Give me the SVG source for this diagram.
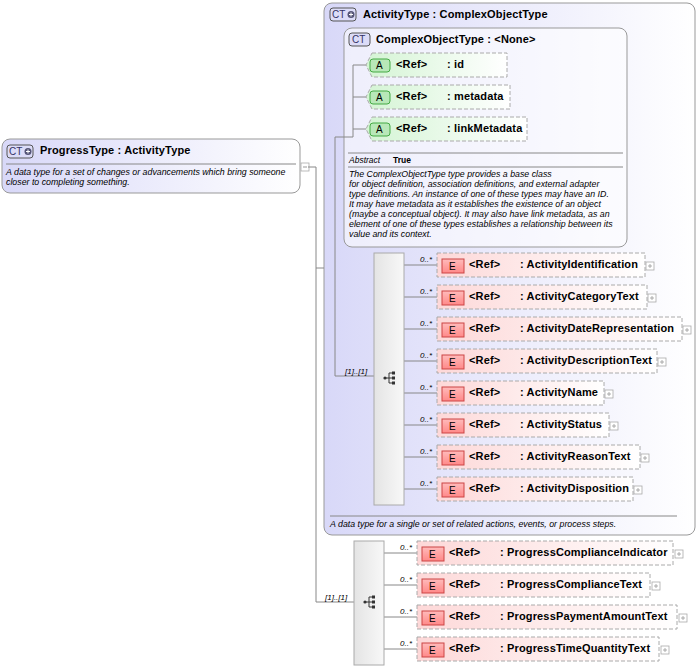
<svg xmlns="http://www.w3.org/2000/svg" width="700" height="669" viewBox="0 0 700 669">
<defs>
<linearGradient id="gCT" x1="0" y1="0" x2="1" y2="0"><stop offset="0" stop-color="#d8d8f8"/><stop offset="1" stop-color="#ffffff"/></linearGradient>
<linearGradient id="gE" x1="0" y1="0" x2="1" y2="0"><stop offset="0" stop-color="#fdd8d8"/><stop offset="1" stop-color="#ffffff"/></linearGradient>
<linearGradient id="gA" x1="0" y1="0" x2="1" y2="0"><stop offset="0" stop-color="#d4f4d4"/><stop offset="1" stop-color="#ffffff"/></linearGradient>
<linearGradient id="gS" x1="0" y1="0" x2="1" y2="0"><stop offset="0" stop-color="#e4e4e4"/><stop offset="1" stop-color="#f8f8f8"/></linearGradient>
<linearGradient id="gEb" x1="0" y1="0" x2="0" y2="1"><stop offset="0" stop-color="#fbb"/><stop offset="1" stop-color="#f88"/></linearGradient>
<g id="plus"><rect x="0" y="0" width="8" height="8" fill="#fff" stroke="#aaa" stroke-width="0.8"/><path d="M2 4h4M4 2v4" stroke="#999" stroke-width="0.8"/></g>
<g id="seqicon"><circle cx="-6" cy="0" r="1.6" fill="#333"/><path d="M-6 0h4M-2 -5v10M-2 -5h3M-2 0h3M-2 5h3" stroke="#333" fill="none" stroke-width="1"/><rect x="1" y="-6.5" width="3" height="3" fill="#333"/><rect x="1" y="-1.5" width="3" height="3" fill="#333"/><rect x="1" y="3.5" width="3" height="3" fill="#333"/></g>
</defs>
<style>
text{font-family:"Liberation Sans",Arial,sans-serif;fill:#000}
.t{font-size:11px;font-weight:bold;letter-spacing:0.15px}
.d{font-size:8.8px;font-style:italic}
.m{font-size:8px;font-style:italic}
.ct{fill:url(#gCT);stroke:#999;stroke-width:1}
.el{fill:url(#gE);stroke:#aaa;stroke-dasharray:4,2;stroke-width:1}
.at{fill:url(#gA);stroke:#aaa;stroke-dasharray:4,2;stroke-width:1}
.seq{fill:url(#gS);stroke:#aaa;stroke-width:1}
.badge{fill:#dcdcf8;stroke:#555;stroke-width:1}
.eb{fill:url(#gEb);stroke:#c44;stroke-width:1}
.ab{fill:#b8e8b8;stroke:#4a4;stroke-width:1}
.ln{stroke:#888;stroke-width:1;fill:none}
.sep{stroke:#888;stroke-width:1}
</style>

<g id="ProgressType">
<rect class="ct" x="2" y="139" width="298" height="54" rx="8"/>
<rect class="badge" x="7" y="145" width="26" height="13" rx="3"/>
<text x="9" y="155" style="font-size:10px;fill:#336">CT</text>
<circle cx="28" cy="151.5" r="3.5" fill="#557"/><path d="M26 151.5h4M28 149.5v4" stroke="#fff"/>
<text class="t" x="40" y="154">ProgressType  : ActivityType</text>
<line class="sep" x1="6" y1="164" x2="296" y2="164"/>
<text class="d" x="6" y="175">A data type for a set of changes or advancements which bring someone</text>
<text class="d" x="6" y="185">closer to completing something.</text>
<rect x="301" y="163" width="8" height="8" fill="#fff" stroke="#aaa" stroke-width="0.8"/><path d="M303 167h4" stroke="#999"/>
</g>

<g id="ActivityType">
<rect class="ct" x="324" y="3" width="371" height="532" rx="8"/>
<rect class="badge" x="330" y="8" width="26" height="13" rx="3"/>
<text x="332" y="18" style="font-size:10px;fill:#336">CT</text>
<circle cx="351" cy="14.5" r="3.5" fill="#557"/><path d="M349 14.5h4M351 12.5v4" stroke="#fff"/>
<text class="t" x="363" y="18">ActivityType : ComplexObjectType</text>
<line class="sep" x1="330" y1="516" x2="677" y2="516"/>
<text class="d" x="330" y="527">A data type for a single or set of related actions, events, or process steps.</text>
</g>

<g id="ComplexObjectType">
<rect x="344" y="28" width="283" height="219" rx="8" fill="#fff" fill-opacity="0.55" stroke="#999"/>
<rect class="badge" x="349" y="33" width="21" height="13" rx="3"/>
<text x="352" y="43" style="font-size:10px;fill:#336">CT</text>
<text class="t" x="376" y="43">ComplexObjectType : &lt;None&gt;</text>
<line class="sep" x1="348" y1="153" x2="623" y2="153"/>
<text x="349" y="163" style="font-size:8.5px;font-style:italic">Abstract</text>
<text x="393" y="163" style="font-size:8.5px;font-weight:bold">True</text>
<line class="sep" x1="348" y1="167" x2="623" y2="167"/>
<text class="d" x="349" y="177">The ComplexObjectType type provides a base class</text>
<text class="d" x="349" y="187">for object definition, association definitions, and external adapter</text>
<text class="d" x="349" y="197">type definitions. An instance of one of these types may have an ID.</text>
<text class="d" x="349" y="207">It may have metadata as it establishes the existence of an object</text>
<text class="d" x="349" y="217">(maybe a conceptual object). It may also have link metadata, as an</text>
<text class="d" x="349" y="227">element of one of these types establishes a relationship between its</text>
<text class="d" x="349" y="237">value and its context.</text>
</g>

<g id="connectors">
<path class="ln" d="M308 167H316V602H354M316 268H324"/>
<path class="ln" d="M353 65V137M353 65H366M353 97H366M353 129H366M353 137H335V376H374"/>
<text class="m" x="345" y="374">[1]..[1]</text>
<path class="ln" d="M404 265H437M404 297H437M404 329H437M404 361H437M404 393H437M404 425H437M404 457H437M404 489H437"/>
<path class="ln" d="M384 553H417M384 585H417M384 617H417M384 649H417"/>
<text class="m" x="325" y="600">[1]..[1]</text>
</g>

<g id="attr_id"><path class="at" d="M372 53H507V77H372L366 65Z"/><rect class="ab" x="370" y="59" width="20" height="13" rx="3"/><text x="376" y="69" style="font-size:10px">A</text><text class="t" x="396" y="68">&lt;Ref&gt;</text><text class="t" x="447" y="68">: id</text></g>
<g id="attr_metadata"><path class="at" d="M372 85H510V109H372L366 97Z"/><rect class="ab" x="370" y="91" width="20" height="13" rx="3"/><text x="376" y="101" style="font-size:10px">A</text><text class="t" x="396" y="100">&lt;Ref&gt;</text><text class="t" x="447" y="100">: metadata</text></g>
<g id="attr_linkMetadata"><path class="at" d="M372 117H527V141H372L366 129Z"/><rect class="ab" x="370" y="123" width="20" height="13" rx="3"/><text x="376" y="133" style="font-size:10px">A</text><text class="t" x="396" y="132">&lt;Ref&gt;</text><text class="t" x="447" y="132">: linkMetadata</text></g>

<g id="seq1"><rect class="seq" x="374" y="253" width="30" height="252"/><use href="#seqicon" x="391" y="378"/></g>

<g id="e1"><text class="m" x="420" y="262">0..*</text><rect class="el" x="437" y="253" width="208" height="24"/><rect class="eb" x="442" y="259" width="22" height="14"/><text x="449" y="270" style="font-size:10px">E</text><text class="t" x="469" y="268">&lt;Ref&gt;</text><text class="t" x="520" y="268">: ActivityIdentification</text><use href="#plus" x="646" y="262"/></g>
<g id="e2"><text class="m" x="420" y="294">0..*</text><rect class="el" x="437" y="285" width="210" height="24"/><rect class="eb" x="442" y="291" width="22" height="14"/><text x="449" y="302" style="font-size:10px">E</text><text class="t" x="469" y="300">&lt;Ref&gt;</text><text class="t" x="520" y="300">: ActivityCategoryText</text><use href="#plus" x="648" y="294"/></g>
<g id="e3"><text class="m" x="420" y="326">0..*</text><rect class="el" x="437" y="317" width="245" height="24"/><rect class="eb" x="442" y="323" width="22" height="14"/><text x="449" y="334" style="font-size:10px">E</text><text class="t" x="469" y="332">&lt;Ref&gt;</text><text class="t" x="520" y="332">: ActivityDateRepresentation</text><use href="#plus" x="683" y="326"/></g>
<g id="e4"><text class="m" x="420" y="358">0..*</text><rect class="el" x="437" y="349" width="220" height="24"/><rect class="eb" x="442" y="355" width="22" height="14"/><text x="449" y="366" style="font-size:10px">E</text><text class="t" x="469" y="364">&lt;Ref&gt;</text><text class="t" x="520" y="364">: ActivityDescriptionText</text><use href="#plus" x="658" y="358"/></g>
<g id="e5"><text class="m" x="420" y="390">0..*</text><rect class="el" x="437" y="381" width="167" height="24"/><rect class="eb" x="442" y="387" width="22" height="14"/><text x="449" y="398" style="font-size:10px">E</text><text class="t" x="469" y="396">&lt;Ref&gt;</text><text class="t" x="520" y="396">: ActivityName</text><use href="#plus" x="605" y="390"/></g>
<g id="e6"><text class="m" x="420" y="422">0..*</text><rect class="el" x="437" y="413" width="172" height="24"/><rect class="eb" x="442" y="419" width="22" height="14"/><text x="449" y="430" style="font-size:10px">E</text><text class="t" x="469" y="428">&lt;Ref&gt;</text><text class="t" x="520" y="428">: ActivityStatus</text><use href="#plus" x="610" y="422"/></g>
<g id="e7"><text class="m" x="420" y="454">0..*</text><rect class="el" x="437" y="445" width="203" height="24"/><rect class="eb" x="442" y="451" width="22" height="14"/><text x="449" y="462" style="font-size:10px">E</text><text class="t" x="469" y="460">&lt;Ref&gt;</text><text class="t" x="520" y="460">: ActivityReasonText</text><use href="#plus" x="641" y="454"/></g>
<g id="e8"><text class="m" x="420" y="486">0..*</text><rect class="el" x="437" y="477" width="196" height="24"/><rect class="eb" x="442" y="483" width="22" height="14"/><text x="449" y="494" style="font-size:10px">E</text><text class="t" x="469" y="492">&lt;Ref&gt;</text><text class="t" x="520" y="492">: ActivityDisposition</text><use href="#plus" x="634" y="486"/></g>

<g id="seq2"><rect class="seq" x="354" y="541" width="30" height="124"/><use href="#seqicon" x="371" y="602"/></g>

<g id="p1"><text class="m" x="400" y="550">0..*</text><rect class="el" x="417" y="541" width="256" height="24"/><rect class="eb" x="422" y="547" width="22" height="14"/><text x="429" y="558" style="font-size:10px">E</text><text class="t" x="449" y="556">&lt;Ref&gt;</text><text class="t" x="500" y="556">: ProgressComplianceIndicator</text><use href="#plus" x="675" y="550"/></g>
<g id="p2"><text class="m" x="400" y="582">0..*</text><rect class="el" x="417" y="573" width="233" height="24"/><rect class="eb" x="422" y="579" width="22" height="14"/><text x="429" y="590" style="font-size:10px">E</text><text class="t" x="449" y="588">&lt;Ref&gt;</text><text class="t" x="500" y="588">: ProgressComplianceText</text><use href="#plus" x="652" y="582"/></g>
<g id="p3"><text class="m" x="400" y="614">0..*</text><rect class="el" x="417" y="605" width="260" height="24"/><rect class="eb" x="422" y="611" width="22" height="14"/><text x="429" y="622" style="font-size:10px">E</text><text class="t" x="449" y="620">&lt;Ref&gt;</text><text class="t" x="500" y="620">: ProgressPaymentAmountText</text><use href="#plus" x="679" y="614"/></g>
<g id="p4"><text class="m" x="400" y="646">0..*</text><rect class="el" x="417" y="637" width="242" height="24"/><rect class="eb" x="422" y="643" width="22" height="14"/><text x="429" y="654" style="font-size:10px">E</text><text class="t" x="449" y="652">&lt;Ref&gt;</text><text class="t" x="500" y="652">: ProgressTimeQuantityText</text><use href="#plus" x="661" y="646"/></g>
</svg>
